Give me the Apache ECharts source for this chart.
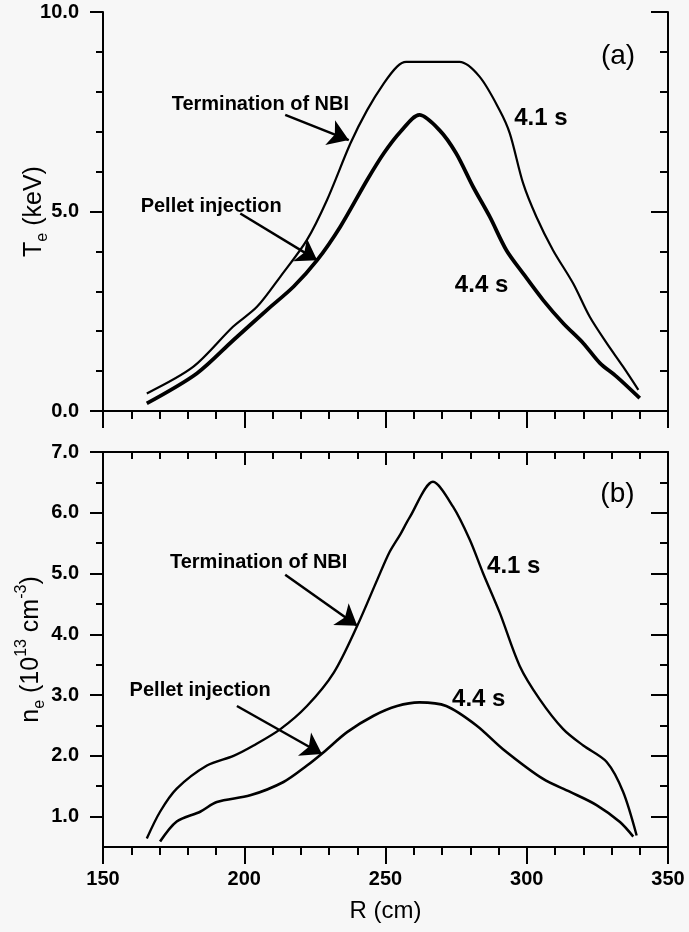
<!DOCTYPE html>
<html>
<head>
<meta charset="utf-8">
<script src="https://cdn.jsdelivr.net/npm/echarts@6/dist/echarts.min.js"></script>
<style>
  html, body { margin: 0; padding: 0; background: #f7f7f7; }
  #chart { width: 689px; height: 932px; }
</style>
</head>
<body>
<div id="chart"></div>
<script>
// (a) electron temperature profiles, R in cm, Te in keV
const rTe41 = [165.5, 182, 196, 204.5, 212.8, 222.2, 229.3, 237.6, 243.5, 249.4, 254.1, 257.3, 276.2, 283.3, 290.4, 294, 298.7, 303.4, 309.3, 316.4, 322.3, 328.3, 334.1, 339.5];
const te41 = [0.44, 1.11, 2.11, 2.61, 3.37, 4.29, 5.29, 6.71, 7.54, 8.21, 8.63, 8.75, 8.75, 8.38, 7.54, 6.96, 5.71, 4.87, 4.03, 3.2, 2.36, 1.70, 1.11, 0.53];
const rTe44 = [165.5, 183.2, 196.2, 208, 217.5, 225.8, 234, 243.5, 249.4, 255.3, 262, 269.1, 275, 281, 286.9, 292.8, 298.7, 305.8, 312.9, 320, 325.9, 331.8, 340];
const te44 = [0.19, 0.94, 1.78, 2.53, 3.12, 3.78, 4.62, 5.79, 6.46, 7.0, 7.42, 7.04, 6.46, 5.62, 4.87, 4.03, 3.45, 2.78, 2.2, 1.70, 1.20, 0.86, 0.32];

// (b) electron density profiles, 10^13 cm^-3
const rNe41 = [165.5, 170.2, 176.1, 186.8, 196.2, 203.3, 212.8, 222.2, 231.7, 240, 247.1, 251.4, 255.3, 258.5, 266.8, 273.9, 279.8, 284.5, 290.4, 297.5, 304.6, 312.9, 320, 328.3, 334.1, 338.9];
const ne41 = [0.64, 1.08, 1.46, 1.84, 2.0, 2.17, 2.44, 2.82, 3.37, 4.14, 4.90, 5.35, 5.65, 5.92, 6.51, 6.10, 5.56, 5.01, 4.36, 3.48, 2.93, 2.44, 2.17, 1.90, 1.41, 0.69];
const rNe44 = [170.2, 176.1, 184.4, 190.3, 202.1, 213.9, 222.2, 228.1, 236.4, 245.8, 254.1, 262, 271.5, 282.2, 291.6, 305.8, 315.2, 324.7, 333, 337.7];
const ne44 = [0.59, 0.92, 1.08, 1.24, 1.35, 1.57, 1.84, 2.06, 2.39, 2.66, 2.82, 2.88, 2.82, 2.50, 2.11, 1.62, 1.41, 1.19, 0.91, 0.67];

// tick values
const neLabels = [1, 2, 3, 4, 5, 6, 7];
const neMinor = [1.5, 2.5, 3.5, 4.5, 5.5, 6.5];

// annotation texts [R, y, text] and arrows [R1, y1, R2, y2]
const notesA = [[205.7, 7.67, 'Termination of NBI'], [188.3, 5.12, 'Pellet injection'], [305, 7.33, '4.1 s'], [284, 3.16, '4.4 s'], [332.3, 8.88, '(a)']];
const arrowsA = [[214.5, 7.42, 237, 6.79], [198.6, 4.95, 225.8, 3.78]];
const notesB = [[205.1, 5.18, 'Termination of NBI'], [184.4, 3.07, 'Pellet injection'], [295.4, 5.12, '4.1 s'], [283, 2.93, '4.4 s'], [332.1, 6.3, '(b)']];
const arrowsB = [[214.5, 4.98, 240, 4.14], [197.4, 2.82, 227.5, 2.03]];

const pairs = (xs, ys) => xs.map((x, i) => [x, ys[i]]);
const black = '#000';
const font = 'Liberation Sans, Arial, sans-serif';

function noteStyle(text) {
    if (text.startsWith('(')) return { fontSize: 28, fontWeight: 'normal' };
    if (text.endsWith(' s')) return { fontSize: 24, fontWeight: 'bold' };
    return { fontSize: 20, fontWeight: 'bold' };
}

function notePoints(notes) {
    return notes.map(n => ({
        coord: [n[0], n[1]],
        label: Object.assign({ show: true, position: 'inside', formatter: n[2], color: black, fontFamily: font }, noteStyle(n[2]))
    }));
}

function arrowLines(arrows) {
    return arrows.map(a => [{ coord: [a[0], a[1]] }, { coord: [a[2], a[3]] }]);
}

// x axes: bottom one with outward ticks, top one mirrored with inside ticks
function xPair(gridIndex, withLabels) {
    const common = {
        type: 'value', gridIndex: gridIndex, min: 150, max: 350, interval: 50,
        axisLine: { lineStyle: { color: black, width: 2 } },
        splitLine: { show: false }
    };
    return [
        Object.assign({}, common, {
            position: 'bottom',
            axisTick: { length: 17, lineStyle: { color: black, width: 2 } },
            minorTick: { show: true, splitNumber: 5, length: 8, lineStyle: { color: black, width: 2 } },
            axisLabel: { show: withLabels, color: black, fontSize: 20, fontWeight: 'bold', fontFamily: font, margin: 22 },
            name: withLabels ? 'R (cm)' : '',
            nameLocation: 'middle', nameGap: 52, nameMoveOverlap: false,
            nameTextStyle: { color: black, fontSize: 24, fontFamily: font }
        }),
        Object.assign({}, common, {
            position: 'top',
            axisTick: { inside: true, length: 13, lineStyle: { color: black, width: 2 } },
            minorTick: { show: true, splitNumber: 5, length: 7, lineStyle: { color: black, width: 2 } },
            axisLabel: { show: false }
        })
    ];
}

const yLine = { lineStyle: { color: black, width: 2 } };
const yLabel = { color: black, fontSize: 20, fontWeight: 'bold', fontFamily: font, margin: 24, formatter: v => v.toFixed(1) };
const richName = {
    m: { fontSize: 25, fontFamily: font, color: black, lineHeight: 34, verticalAlign: 'middle' },
    sub: { fontSize: 16, fontFamily: font, color: black, lineHeight: 34, verticalAlign: 'bottom' },
    sup: { fontSize: 16, fontFamily: font, color: black, lineHeight: 34, verticalAlign: 'top' }
};

const option = {
    backgroundColor: '#f7f7f7',
    animation: false,
    grid: [
        { left: 103, right: 21, top: 12, height: 399, outerBoundsMode: 'none' },
        { left: 103, right: 21, top: 452, height: 395, outerBoundsMode: 'none' }
    ],
    xAxis: xPair(0, false).concat(xPair(1, true)),
    yAxis: [
        // (a) left
        {
            type: 'value', gridIndex: 0, min: 0, max: 10, interval: 5, position: 'left',
            axisLine: yLine, splitLine: { show: false },
            axisTick: { length: 13, lineStyle: { color: black, width: 2 } },
            minorTick: { show: true, splitNumber: 5, length: 7, lineStyle: { color: black, width: 2 } },
            axisLabel: yLabel,
            name: '{m|T}{sub|e}{m| (keV)}', nameLocation: 'middle', nameGap: 52, nameMoveOverlap: false,
            nameTextStyle: { rich: richName }
        },
        // (a) right
        {
            type: 'value', gridIndex: 0, min: 0, max: 10, interval: 5, position: 'right',
            axisLine: yLine, splitLine: { show: false },
            axisTick: { inside: true, length: 17, lineStyle: { color: black, width: 2 } },
            minorTick: { show: true, splitNumber: 5, length: 8, lineStyle: { color: black, width: 2 } },
            axisLabel: { show: false }
        },
        // (b) left, major ticks and labels
        {
            type: 'value', gridIndex: 1, min: 0.5, max: 7, position: 'left',
            axisLine: yLine, splitLine: { show: false },
            axisTick: { length: 13, customValues: neLabels, lineStyle: { color: black, width: 2 } },
            axisLabel: Object.assign({ customValues: neLabels }, yLabel),
            name: '{m|n}{sub|e}{m| (10}{sup|13}{m| cm}{sup|-3}{m|)}', nameLocation: 'middle', nameGap: 55, nameMoveOverlap: false,
            nameTextStyle: { rich: richName }
        },
        // (b) left, minor ticks
        {
            type: 'value', gridIndex: 1, min: 0.5, max: 7, position: 'left',
            axisLine: { show: false }, splitLine: { show: false },
            axisTick: { length: 7, customValues: neMinor, lineStyle: { color: black, width: 2 } },
            axisLabel: { show: false }
        },
        // (b) right, major
        {
            type: 'value', gridIndex: 1, min: 0.5, max: 7, position: 'right',
            axisLine: yLine, splitLine: { show: false },
            axisTick: { inside: true, length: 17, customValues: neLabels, lineStyle: { color: black, width: 2 } },
            axisLabel: { show: false }
        },
        // (b) right, minor
        {
            type: 'value', gridIndex: 1, min: 0.5, max: 7, position: 'right',
            axisLine: { show: false }, splitLine: { show: false },
            axisTick: { inside: true, length: 8, customValues: neMinor, lineStyle: { color: black, width: 2 } },
            axisLabel: { show: false }
        }
    ],
    series: [
        {
            name: 'Te 4.1 s', type: 'line', xAxisIndex: 0, yAxisIndex: 0,
            data: pairs(rTe41, te41), showSymbol: false, smooth: 0.3,
            lineStyle: { color: black, width: 2.2 },
            markPoint: { symbol: 'circle', symbolSize: 0, silent: true, data: notePoints(notesA) },
            markLine: {
                silent: true, symbol: ['none', 'arrow'], symbolSize: 20,
                lineStyle: { color: black, width: 2.5, type: 'solid' },
                label: { show: false }, data: arrowLines(arrowsA)
            }
        },
        {
            name: 'Te 4.4 s', type: 'line', xAxisIndex: 0, yAxisIndex: 0,
            data: pairs(rTe44, te44), showSymbol: false, smooth: 0.3,
            lineStyle: { color: black, width: 3.8 }
        },
        {
            name: 'ne 4.1 s', type: 'line', xAxisIndex: 2, yAxisIndex: 2,
            data: pairs(rNe41, ne41), showSymbol: false, smooth: 0.3,
            lineStyle: { color: black, width: 2.4 },
            markPoint: { symbol: 'circle', symbolSize: 0, silent: true, data: notePoints(notesB) },
            markLine: {
                silent: true, symbol: ['none', 'arrow'], symbolSize: 20,
                lineStyle: { color: black, width: 2.5, type: 'solid' },
                label: { show: false }, data: arrowLines(arrowsB)
            }
        },
        {
            name: 'ne 4.4 s', type: 'line', xAxisIndex: 2, yAxisIndex: 2,
            data: pairs(rNe44, ne44), showSymbol: false, smooth: 0.3,
            lineStyle: { color: black, width: 2.6 }
        }
    ]
};

const myChart = echarts.init(document.getElementById('chart'));
myChart.setOption(option);
</script>
</body>
</html>
